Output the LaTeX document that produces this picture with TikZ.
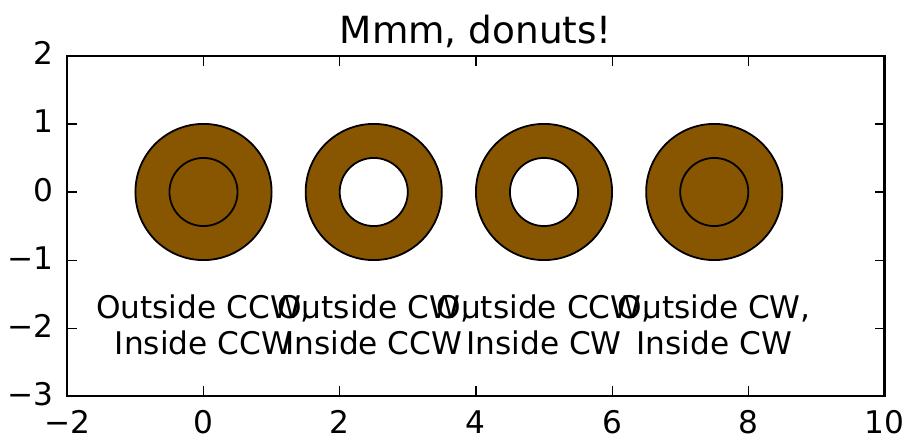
\documentclass[tikz,border=0pt]{standalone}
\usepackage{fontspec}
\setmainfont{DejaVu Sans}
\definecolor{donut}{HTML}{885500}
\begin{document}
\begin{tikzpicture}[x=68.1pt,y=68.1pt,
  edge/.style={draw=black,line width=1.8pt},
  lbl/.style={font=\fontsize{31.2}{35.7}\selectfont,align=center,anchor=base,inner sep=0pt},
  ticklbl/.style={font=\fontsize{31.2}{36}\selectfont,inner sep=0pt},
  tickmark/.style={line width=1.2pt,black},
  spine/.style={line width=2.2pt,black}]
\useasboundingbox (-203.5pt,-242pt) rectangle (704.5pt,192pt);
% donuts with filled centre
\foreach \cx in {0,7.5} {
  \fill[donut] (\cx,0) circle (1);
  \draw[edge] (\cx,0) circle (1);
  \draw[edge] (\cx,0) circle (0.5);
}
% donuts with holes
\foreach \cx in {2.5,5} {
  \filldraw[donut,even odd rule,edge] (\cx,0) circle (1) (\cx,0) circle (0.5);
}
% labels (base anchor = baseline of last line)
\node[lbl] (l1) at (0,-2.382) {Outside CCW,\\Inside CCW};
\node[lbl] (l2) at (2.5,-2.382) {Outside CW,\\Inside CCW};
\node[lbl] (l3) at (5,-2.382) {Outside CCW,\\Inside CW};
\node[lbl] (l4) at (7.5,-2.382) {Outside CW,\\Inside CW};
% title
\node[font=\fontsize{37.4}{44}\selectfont,anchor=base,inner sep=0pt] (title) at (4,2.176) {Mmm, donuts!};
% ticks
\foreach \x in {-2,0,2,4,6,8,10} {
  \draw[tickmark] (\x,-3) -- ++(0,10pt);
  \draw[tickmark] (\x,2) -- ++(0,-10pt);
}
\foreach \y in {-3,-2,-1,0,1,2} {
  \draw[tickmark] (-2,\y) -- ++(10pt,0);
  \draw[tickmark] (10,\y) -- ++(-10pt,0);
}
% tick labels
\foreach \x/\t in {-2/−2,0/0,2/2,4/4,6/6,8/8,10/10} {
  \node[ticklbl,anchor=base] (xt\x) at ([yshift=-37pt]\x,-3) {\t};
}
\foreach \y/\t in {-3/−3,-2/−2,-1/−1,0/0,1/1,2/2} {
  \node[ticklbl,anchor=base east] (yt\y) at ([xshift=-14pt,yshift=-9pt]-2,\y) {\t};
}
% spines
\draw[spine] (-2,-3) rectangle (10,2);
\end{tikzpicture}
\end{document}
